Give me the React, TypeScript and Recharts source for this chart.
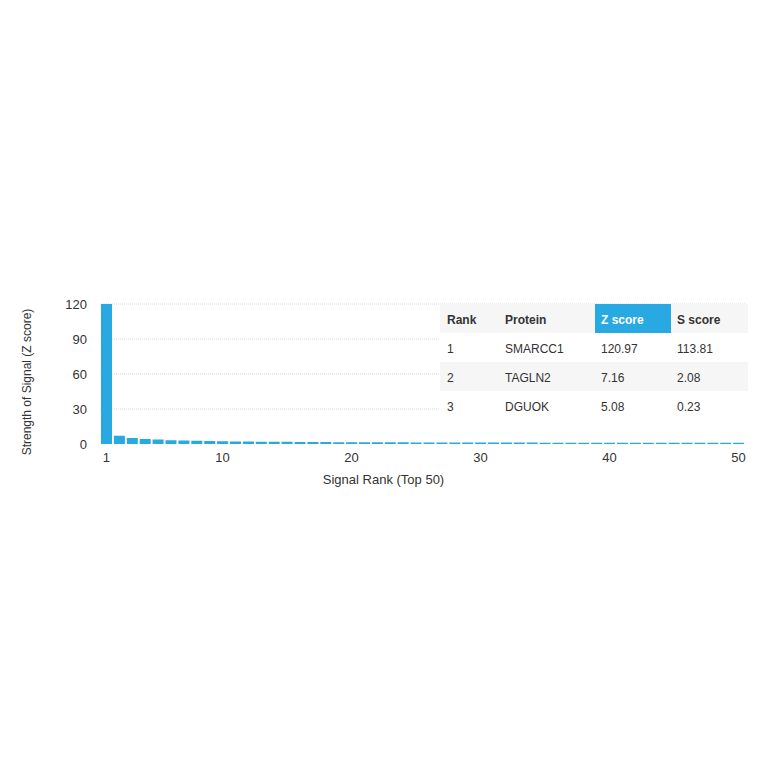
import React from "react";
import { BarChart, Bar, XAxis, YAxis, CartesianGrid } from "recharts";

// Signal strength per rank (Z score), top 50 ranks
const ranks = Array.from({ length: 50 }, (_, i) => i + 1);
const zScores = [
  120.97, 7.16, 5.08, 4.3, 3.8, 3.3, 3.0, 2.7, 2.5, 2.35,
  2.2, 2.1, 2.0, 1.9, 1.85, 1.75, 1.7, 1.65, 1.6, 1.55,
  1.5, 1.47, 1.44, 1.41, 1.38, 1.35, 1.32, 1.3, 1.28, 1.26,
  1.24, 1.22, 1.2, 1.18, 1.17, 1.15, 1.14, 1.12, 1.11, 1.1,
  1.08, 1.07, 1.06, 1.05, 1.04, 1.03, 1.02, 1.01, 1.0, 0.99,
];
const xTickValues = [1, 10, 20, 30, 40, 50];
const yTickValues = [0, 30, 60, 90, 120];

// Top hits table
const tableHeaders = ["Rank", "Protein", "Z score", "S score"];
const tableRanks = ["1", "2", "3"];
const tableProteins = ["SMARCC1", "TAGLN2", "DGUOK"];
const tableZ = ["120.97", "7.16", "5.08"];
const tableS = ["113.81", "2.08", "0.23"];

const BLUE = "#29a9e1";
const FONT = "'Liberation Sans', Arial, Helvetica, sans-serif";

const data = ranks.map((r, i) => ({ rank: r, z: zScores[i] }));

function XTick(props: any) {
  const { x, y, payload } = props;
  if (!xTickValues.includes(payload.value)) return null;
  return (
    <text x={x} y={y} dy={10} textAnchor="middle" fill="#333" fontSize={13} fontFamily={FONT}>
      {payload.value}
    </text>
  );
}

function YTitle(props: any) {
  const { viewBox } = props;
  const cx = viewBox.x + 27;
  const cy = viewBox.y + viewBox.height / 2 + 8;
  return (
    <text
      x={cx}
      y={cy}
      transform={`rotate(-90 ${cx} ${cy})`}
      textAnchor="middle"
      dominantBaseline="central"
      fill="#333"
      fontSize={12}
      fontFamily={FONT}
    >
      Strength of Signal (Z score)
    </text>
  );
}

const colLeft = [447, 505, 601, 677];

export default function App() {
  return (
    <div style={{ position: "absolute", left: 0, top: 0, width: 764, height: 764, background: "#fff" }}>
      <BarChart
        width={764}
        height={764}
        data={data}
        margin={{ top: 304, right: 19, bottom: 275, left: 0 }}
        barCategoryGap={1}
      >
        <CartesianGrid
          vertical={false}
          horizontalValues={[30, 60, 90, 120]}
          stroke="#d6d6d6"
          strokeDasharray="1 1"
        />
        <XAxis
          dataKey="rank"
          interval={0}
          tick={<XTick />}
          tickLine={false}
          axisLine={false}
          height={45}
          label={{
            value: "Signal Rank (Top 50)",
            position: "insideBottom",
            offset: 5,
            dx: -39,
            fill: "#333",
            fontSize: 13,
            fontFamily: FONT,
          }}
        />
        <YAxis
          width={100}
          domain={[0, 120]}
          ticks={yTickValues}
          allowDataOverflow
          tickLine={false}
          axisLine={false}
          tickMargin={7}
          tick={{ fill: "#333", fontSize: 13, fontFamily: FONT }}
          label={<YTitle />}
        />
        <Bar dataKey="z" fill={BLUE} isAnimationActive={false} />
      </BarChart>

      <div
        style={{
          position: "absolute",
          left: 440,
          top: 304,
          width: 308,
          fontFamily: FONT,
          fontSize: 12,
          color: "#333",
          background: "#fff",
        }}
      >
        {[-1, 0, 1, 2].map((row) => {
          const cells =
            row < 0
              ? tableHeaders
              : [tableRanks[row], tableProteins[row], tableZ[row], tableS[row]];
          return (
            <div
              key={row}
              style={{
                position: "relative",
                height: 29,
                background: row % 2 === 0 ? "#fff" : "#f6f6f6",
              }}
            >
              {row < 0 && (
                <div style={{ position: "absolute", left: 155, top: 0, width: 76, height: 29, background: BLUE }} />
              )}
              {cells.map((c, ci) => (
                <span
                  key={ci}
                  style={{
                    position: "absolute",
                    left: colLeft[ci] - 440,
                    top: 2,
                    lineHeight: "29px",
                    fontWeight: row < 0 ? "bold" : "normal",
                    color: row < 0 && ci === 2 ? "#fff" : "#333",
                  }}
                >
                  {c}
                </span>
              ))}
            </div>
          );
        })}
      </div>
    </div>
  );
}
